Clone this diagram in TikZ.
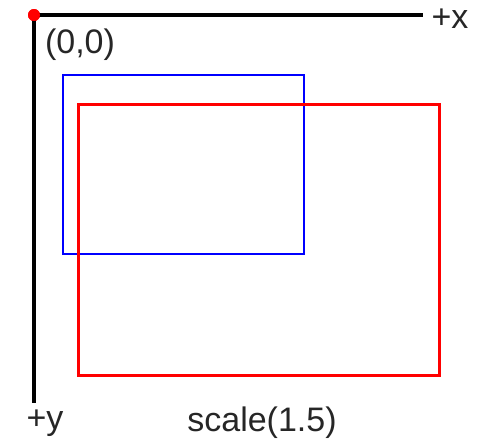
\documentclass[tikz,border=0pt]{standalone}
\usepackage{fontspec}
\setmainfont{Liberation Sans}
\usetikzlibrary{positioning}
\tikzset{
    axis/.style={
        line width=4pt, draw=black
    },
    origin_dot/.style={
        circle, fill=red, inner sep=0pt, minimum size=12pt
    },
    axis_label/.style={
        inner sep=0pt, font=\fontsize{34}{36}\selectfont, text=black!85
    },
    rect_blue/.style={
        line width=2pt, draw=blue
    },
    rect_red/.style={
        line width=3pt, draw=red
    }
}
\begin{document}
\begin{tikzpicture}[x=1pt, y=-1pt]
    \useasboundingbox (0, 0) rectangle (478, 445);
    \coordinate (xend) at (423, 15);
    \coordinate (yend) at (34, 403);
    \node[origin_dot] (origin) at (34, 15) {};

    \draw[axis] (origin.center) -- (xend);
    \draw[axis] (origin.center) -- (yend);
    \node[origin_dot] at (origin) {};

    \node[axis_label] (xlabel) at (450, 19) {+x};
    \node[axis_label] (ylabel) at (45, 423) {+y};
    \node[axis_label] (zero) at (80, 45) {(0,0)};
    \node[axis_label] (caption) at (262, 423) {scale(1.5)};

    \draw[rect_blue] (63, 75) rectangle (304, 254);
    \draw[rect_red] (78, 104) rectangle (439, 375);
\end{tikzpicture}
\end{document}
